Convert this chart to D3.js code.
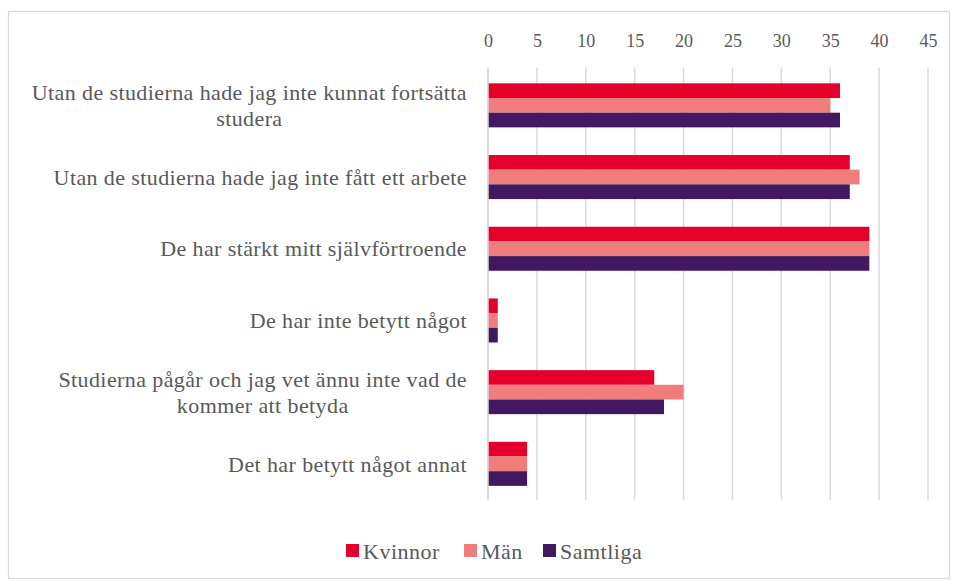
<!DOCTYPE html>
<html>
<head>
<meta charset="utf-8">
<script src="https://cdn.jsdelivr.net/npm/d3@7"></script>
<style>
  body { margin: 0; background: #fff; }
  text { font-family: "Liberation Serif", "Times New Roman", serif; fill: #595959; }
</style>
</head>
<body>
<div id="chart"></div>
<script>
const categories = [
        ['Utan de studierna hade jag inte kunnat fortsätta', 'studera'],
        ['Utan de studierna hade jag inte fått ett arbete'],
        ['De har stärkt mitt självförtroende'],
        ['De har inte betytt något '],
        ['Studierna pågår och jag vet ännu inte vad de', 'kommer att betyda'],
        ['Det har betytt något annat'],
];
const seriesNames = ['Kvinnor', 'Män', 'Samtliga'];
const kvinnor = [36, 37, 39, 1, 17, 4];
const man = [35, 38, 39, 1, 20, 4];
const samtliga = [36, 37, 39, 1, 18, 4];
const xTicks = [0, 5, 10, 15, 20, 25, 30, 35, 40, 45];
const colors = ['#e4002b', '#ee7d7b', '#421860'];

const dimensions = {
        width: 956,
        height: 581,
        plotLeft: 488,
        plotRight: 928,
        plotTop: 69.5,
        plotBottom: 499.7,
};

const rows = categories.map((c, i) => ({
        key: i,
        lines: c,
        values: [kvinnor[i], man[i], samtliga[i]],
}));

const svg = d3.select('#chart')
        .append('svg')
        .attr('width', dimensions.width)
        .attr('height', dimensions.height);

// outer frame
svg.append('rect')
        .attr('x', 8.5)
        .attr('y', 11.5)
        .attr('width', 941)
        .attr('height', 567)
        .attr('fill', '#fff')
        .attr('stroke', '#d9d9d9')
        .attr('stroke-width', 1.2);

const xScale = d3.scaleLinear()
        .domain([0, 45])
        .range([dimensions.plotLeft, dimensions.plotRight]);

const yScale = d3.scaleBand()
        .domain(rows.map(d => d.key))
        .range([dimensions.plotTop, dimensions.plotBottom])
        .paddingInner(0.386)
        .paddingOuter(0.193);

const ySub = d3.scaleBand()
        .domain(d3.range(seriesNames.length))
        .range([0, yScale.bandwidth()]);

// gridlines
svg.append('g')
        .selectAll('line')
        .data(xTicks)
        .join('line')
        .attr('x1', d => xScale(d))
        .attr('x2', d => xScale(d))
        .attr('y1', dimensions.plotTop - 2)
        .attr('y2', dimensions.plotBottom)
        .attr('stroke', '#d9d9d9')
        .attr('stroke-width', 1.5);

// top axis labels
const xAxis = svg.append('g')
        .attr('transform', `translate(0, 47)`)
        .call(d3.axisTop(xScale).tickValues(xTicks).tickSize(0).tickPadding(0));
xAxis.attr('font-family', null);
xAxis.select('.domain').remove();
xAxis.selectAll('text')
        .attr('font-size', 18)
        .attr('fill', '#595959');

// bars
const groups = svg.append('g')
        .selectAll('g')
        .data(rows)
        .join('g')
        .attr('transform', d => `translate(0, ${yScale(d.key)})`);

groups.selectAll('rect')
        .data(d => d.values.map((v, j) => ({ v, j })))
        .join('rect')
        .attr('x', xScale(0))
        .attr('y', d => ySub(d.j))
        .attr('width', d => xScale(d.v) - xScale(0))
        .attr('height', ySub.bandwidth())
        .attr('fill', d => colors[d.j]);

// category labels (lines centred, block right aligned)
const labelRight = 467;
const labels = svg.append('g')
        .selectAll('text')
        .data(rows)
        .join('text')
        .attr('font-size', 22)
        .attr('letter-spacing', 0.4);

labels.each(function(d) {
        const t = d3.select(this);
        const lineH = 26.5;
        const cy = yScale(d.key) + yScale.bandwidth() / 2;
        const y0 = cy - (d.lines.length - 1) * lineH / 2;
        d.lines.forEach((l, k) => {
                t.append('tspan')
                        .attr('y', y0 + k * lineH)
                        .attr('dy', '0.35em')
                        .text(l);
        });
        let w = 0;
        t.selectAll('tspan').each(function() {
                w = Math.max(w, this.getComputedTextLength());
        });
        t.attr('text-anchor', 'middle');
        t.selectAll('tspan').attr('x', labelRight - w / 2);
});

// left axis line
svg.append('line')
        .attr('x1', xScale(0))
        .attr('x2', xScale(0))
        .attr('y1', dimensions.plotTop - 2)
        .attr('y2', dimensions.plotBottom)
        .attr('stroke', '#d9d9d9')
        .attr('stroke-width', 1.5);

// legend
const legendX = [346, 464, 543];
const legend = svg.append('g')
        .selectAll('g')
        .data(seriesNames)
        .join('g')
        .attr('transform', (d, i) => `translate(${legendX[i]}, 544)`);

legend.append('rect')
        .attr('width', 13)
        .attr('height', 13)
        .attr('fill', (d, i) => colors[i]);

legend.append('text')
        .attr('x', 17)
        .attr('y', 7)
        .attr('dy', '0.35em')
        .attr('font-size', 22)
        .attr('letter-spacing', 0.5)
        .text(d => d);
</script>
</body>
</html>
